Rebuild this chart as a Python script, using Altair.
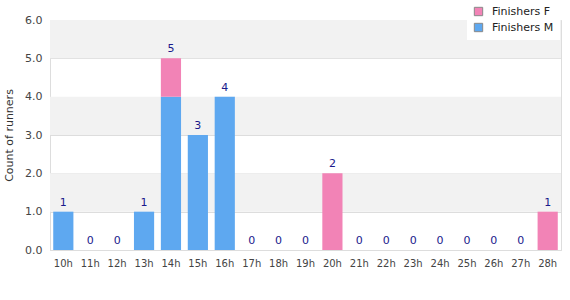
import altair as alt
import pandas as pd

hours = ["10h","11h","12h","13h","14h","15h","16h","17h","18h","19h","20h","21h","22h","23h","24h","25h","26h","27h","28h"]
finishers_m = [1,0,0,1,4,3,4,0,0,0,0,0,0,0,0,0,0,0,0]
finishers_f = [0,0,0,0,1,0,0,0,0,0,2,0,0,0,0,0,0,0,1]
band_lo = [1,3,5]
band_hi = [2,4,6]

rows = []
for h, m, f in zip(hours, finishers_m, finishers_f):
    rows.append({"hour": h, "series": "Finishers M", "value": m, "order": 0})
    rows.append({"hour": h, "series": "Finishers F", "value": f, "order": 1})
df = pd.DataFrame(rows)
tot = pd.DataFrame({"hour": hours, "total": [m + f for m, f in zip(finishers_m, finishers_f)]})
bands = pd.DataFrame({"lo": band_lo, "hi": band_hi})

FONT = "DejaVu Sans"
yscale = alt.Scale(domain=[0, 6])
yaxis = alt.Axis(title="Count of runners", values=[0,1,2,3,4,5,6], format=".1f",
                 labelOverlap=False, labelFlush=False,
                 labelFont=FONT, labelFontSize=11, labelColor="#444", ticks=False,
                 domainColor="#ddd", gridColor="#dddddd", labelPadding=8,
                 titleFont=FONT, titleFontSize=11, titleFontWeight="normal",
                 titleColor="#333", titlePadding=10)

bg = alt.Chart(bands).mark_rect(color="#f2f2f2").encode(
    y=alt.Y("lo:Q", scale=yscale, axis=yaxis),
    y2="hi:Q",
    x=alt.value(0), x2=alt.value(511),
)

bars = alt.Chart(df).mark_bar().encode(
    x=alt.X("hour:N", sort=hours, scale=alt.Scale(paddingInner=0.25, paddingOuter=0.12),
            axis=alt.Axis(title=None, labelAngle=0, labelFont=FONT, labelFontSize=10,
                          labelColor="#444", ticks=False, domainColor="#ddd", labelPadding=8)),
    y=alt.Y("value:Q", stack="zero", scale=yscale, axis=yaxis),
    color=alt.Color("series:N", scale=alt.Scale(domain=["Finishers F", "Finishers M"],
                                                range=["#f283b6", "#5ea8f0"]),
                    legend=alt.Legend(title=None, orient="none", legendX=417, legendY=-20,
                                      fillColor="white", padding=6, symbolType="square",
                                      symbolSize=70, symbolStrokeColor="#888", symbolStrokeWidth=1,
                                      labelFont=FONT, labelFontSize=11, labelColor="#222",
                                      rowPadding=3, labelOffset=8)),
    order=alt.Order("order:Q"),
)

labels = alt.Chart(tot).mark_text(dy=-9, font=FONT, fontSize=11, color="#1a1a8c").encode(
    x=alt.X("hour:N", sort=hours),
    y=alt.Y("total:Q", scale=yscale, axis=yaxis),
    text="total:Q",
)

chart = alt.layer(bg, bars, labels).resolve_axis(y="shared").properties(
    width=511, height=230,
    autosize=alt.AutoSizeParams(type="none"),
    padding={"left": 50, "top": 20, "right": 9, "bottom": 50},
).configure_view(stroke="#dddddd")

chart.save("out.html", embed_options={"renderer": "svg", "actions": False})
